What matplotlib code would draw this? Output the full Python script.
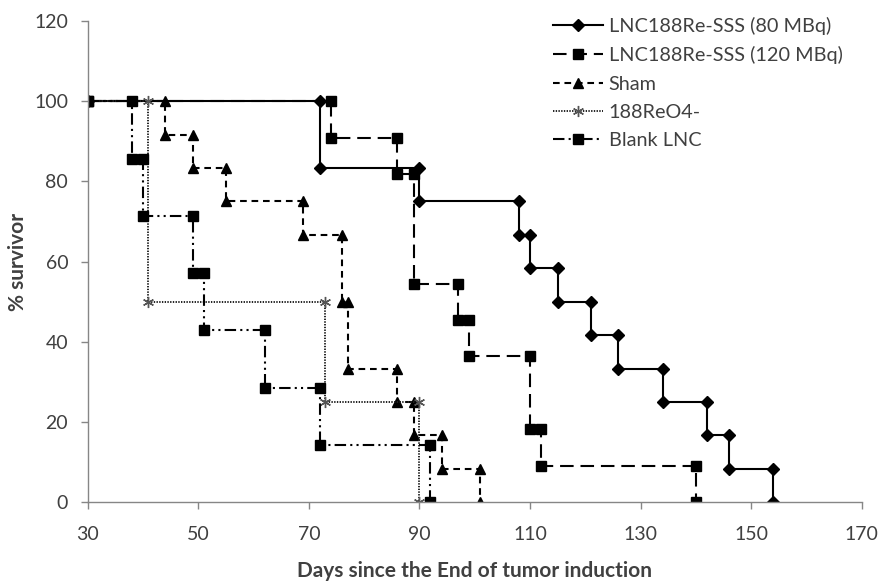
import matplotlib
matplotlib.use("Agg")
import matplotlib.pyplot as plt

plt.rcParams["font.family"] = ["Lato", "DejaVu Sans"]

# Kaplan-Meier step data (day, % survivor), drawn as straight segments like Excel
days_80 = [30, 72, 72, 90, 90, 108, 108, 110, 110, 115, 115, 121, 121, 126, 126,
           134, 134, 142, 142, 146, 146, 154, 154]
surv_80 = [100, 100, 83.3, 83.3, 75, 75, 66.7, 66.7, 58.3, 58.3, 50, 50, 41.7, 41.7,
           33.3, 33.3, 25, 25, 16.7, 16.7, 8.3, 8.3, 0]

days_120 = [30, 74, 74, 86, 86, 89, 89, 97, 97, 99, 99, 110, 110, 112, 112, 140, 140]
surv_120 = [100, 100, 90.9, 90.9, 81.8, 81.8, 54.5, 54.5, 45.5, 45.5, 36.4, 36.4,
            18.2, 18.2, 9.1, 9.1, 0]

days_sham = [30, 44, 44, 49, 49, 55, 55, 69, 69, 76, 76, 77, 77, 86, 86, 89, 89,
             94, 94, 101, 101]
surv_sham = [100, 100, 91.7, 91.7, 83.3, 83.3, 75, 75, 66.7, 66.7, 50, 50, 33.3,
             33.3, 25, 25, 16.7, 16.7, 8.3, 8.3, 0]

days_reo4 = [30, 41, 41, 73, 73, 90, 90]
surv_reo4 = [100, 100, 50, 50, 25, 25, 0]

days_blank = [30, 38, 38, 40, 40, 49, 49, 51, 51, 62, 62, 72, 72, 92, 92]
surv_blank = [100, 100, 85.7, 85.7, 71.4, 71.4, 57.1, 57.1, 42.9, 42.9, 28.6, 28.6,
              14.3, 14.3, 0]

labels = ["LNC188Re-SSS (80 MBq)", "LNC188Re-SSS (120 MBq)", "Sham", "188ReO4-",
          "Blank LNC"]

x_ticks = [30, 50, 70, 90, 110, 130, 150, 170]
y_ticks = [0, 20, 40, 60, 80, 100, 120]

axis_grey = "#868686"
text_grey = "#404040"

fig = plt.figure(figsize=(8.83, 5.84), dpi=100)
ax = fig.add_axes([0.0993, 0.140, 0.8766, 0.824])

ax.plot(days_80, surv_80, color="black", lw=1.5, marker="D", ms=6.5,
        label=labels[0])
ax.plot(days_120, surv_120, color="black", lw=1.5, marker="s", ms=7,
        dashes=(6.5, 3.3), label=labels[1])
ax.plot(days_sham, surv_sham, color="black", lw=1.5, marker="^", ms=7.5,
        dashes=(3.2, 2.3), label=labels[2])
ax.plot(days_reo4, surv_reo4, color="#222222", lw=1.4, marker=(6, 2, 0), ms=8,
        mew=1.0, mec="#555555", dashes=(0.7, 0.7), label=labels[3])
ax.plot(days_blank, surv_blank, color="black", lw=1.5, marker="s", ms=7,
        dashes=(5.5, 2, 1, 2, 1, 2), label=labels[4])

ax.set_xlim(30, 170)
ax.set_ylim(0, 120)
ax.set_xticks(x_ticks)
ax.set_yticks(y_ticks)

for side in ["top", "right"]:
    ax.spines[side].set_visible(False)
for side in ["left", "bottom"]:
    ax.spines[side].set_color(axis_grey)
    ax.spines[side].set_linewidth(1.0)

ax.tick_params(axis="both", colors=axis_grey, length=5, width=1.0,
               labelcolor=text_grey, labelsize=14)
ax.tick_params(axis="x", pad=12)
ax.tick_params(axis="y", pad=9)

ax.set_xlabel("Days since the End of tumor induction", fontsize=15,
              fontweight="bold", color=text_grey)
ax.set_ylabel("% survivor", fontsize=15, fontweight="bold", color=text_grey)
ax.xaxis.set_label_coords(0.5, -0.122)
ax.yaxis.set_label_coords(-0.077, 0.5)

leg = ax.legend(loc="upper left", bbox_to_anchor=(553 / 883, 1 - 17 / 584),
                bbox_transform=fig.transFigure, frameon=False, fontsize=14.3,
                handlelength=2.5, handletextpad=0.3, labelspacing=0.57,
                borderaxespad=0, borderpad=0)
for t in leg.get_texts():
    t.set_color(text_grey)

fig.savefig("out.png", dpi=100)
